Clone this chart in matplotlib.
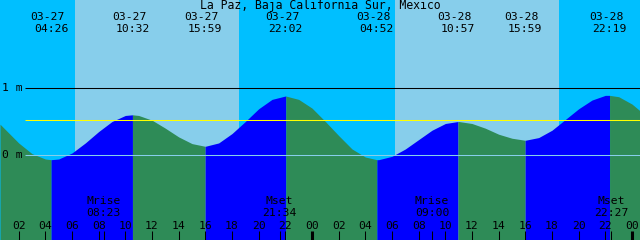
import matplotlib
matplotlib.use("Agg")
import matplotlib.pyplot as plt

title = "La Paz, Baja California Sur, Mexico"

# high / low tide events (date, time, height in m)
event_dates = ["03-27", "03-27", "03-27", "03-27", "03-28", "03-28", "03-28", "03-28"]
event_times = ["04:26", "10:32", "15:59", "22:02", "04:52", "10:57", "15:59", "22:19"]
event_heights = [-0.07, 0.60, 0.13, 0.88, -0.07, 0.50, 0.22, 0.89]

# tide height, hours from 03-27 00:00
curve_hours = [0.6] + list(range(1, 49)) + [48.6]
curve_heights = [0.46, 0.38, 0.18, 0.02, -0.06, -0.06, 0.03, 0.18, 0.35, 0.50,
                 0.59, 0.59, 0.52, 0.40, 0.27, 0.17, 0.13, 0.18, 0.32, 0.50,
                 0.69, 0.83, 0.88, 0.83, 0.70, 0.50, 0.29, 0.09, -0.03, -0.07,
                 -0.02, 0.09, 0.23, 0.37, 0.47, 0.50, 0.47, 0.40, 0.31, 0.25,
                 0.22, 0.26, 0.37, 0.53, 0.69, 0.82, 0.89, 0.87, 0.76, 0.66]

sunrise = ["06:13", "30:14"]
sunset = ["18:32", "42:32"]

moon_names = ["Mrise", "Mset", "Mrise", "Mset"]
moon_times = ["08:23", "21:34", "09:00", "22:27"]
moon_day = [0, 0, 1, 1]

mark_level = 0.52


def hours(s, day=0):
    h, m = s.split(":")
    return day * 24 + int(h) + int(m) / 60.0


t0, t1 = 0.6, 48.6
px_per_h = 640 / (t1 - t0)
ymin, ymax = (155 - 240) / 67.0, 155 / 67.0


def fy(py):
    # pixel row -> axes fraction
    return 1 - py / 240.0


fig = plt.figure(figsize=(6.4, 2.4), dpi=100)
ax = fig.add_axes([0, 0, 1, 1])
ax.set_xlim(t0, t1)
ax.set_ylim(ymin, ymax)
ax.axis("off")

# sky: night / day
rise_h = [hours(s) for s in sunrise]
set_h = [hours(s) for s in sunset]
ax.axvspan(t0, t1, color="#00bfff", lw=0, zorder=0)
for r, s in zip(rise_h, set_h):
    ax.axvspan(r, s, color="#87ceeb", lw=0, zorder=1)

# tide curve with extremes merged in
ev_h = [hours(t, 0 if d == "03-27" else 1) for d, t in zip(event_dates, event_times)]
pts = sorted(list(zip(curve_hours, curve_heights)) + list(zip(ev_h, event_heights)))
xs = [p[0] for p in pts]
ys = [p[1] for p in pts]

bounds = [t0] + ev_h + [t1]
for i in range(len(bounds) - 1):
    a, b = bounds[i], bounds[i + 1]
    sx = [x for x in xs if a <= x <= b]
    sy = [y for x, y in zip(xs, ys) if a <= x <= b]
    rising = sy[-1] > sy[0]
    ax.fill_between(sx, sy, ymin, color="#0000ff" if rising else "#2e8b57",
                    lw=0, zorder=2)

# level lines
xl = t0 + 25 / px_per_h
ax.hlines(1, xl, t1, color="black", lw=0.75, zorder=3)
ax.hlines(mark_level, xl, t1, color="yellow", lw=0.75, zorder=3)
ax.hlines(0, xl, t1, color="#87ceeb", lw=0.75, zorder=3)

mono = "DejaVu Sans Mono"
ax.text(2 / 640, fy(88), "1 m", transform=ax.transAxes, family=mono, fontsize=8.2,
        va="center", ha="left", zorder=4)
ax.text(2 / 640, fy(155), "0 m", transform=ax.transAxes, family=mono, fontsize=8.2,
        va="center", ha="left", zorder=4)

ax.text(0.5, fy(5), title, transform=ax.transAxes, family=mono, fontsize=8.3,
        ha="center", va="center", zorder=4)

tr = ax.get_xaxis_transform()
for d, t, h in zip(event_dates, event_times, ev_h):
    ax.text(h - 3.5 / px_per_h, fy(17), d, transform=tr, family=mono, fontsize=8.2,
            ha="center", va="center", zorder=4)
    ax.text(h, fy(29), t, transform=tr, family=mono, fontsize=8.2,
            ha="center", va="center", zorder=4)

# hour ticks
for h in range(2, 49, 2):
    lw = 2.2 if h % 24 == 0 else 0.75
    ax.vlines(h, fy(240), fy(231), transform=tr, color="black", lw=lw, zorder=4)
    ax.text(h, fy(226), "%02d" % (h % 24), transform=tr, family=mono, fontsize=8.2,
            ha="center", va="center", zorder=4)

# moon rise / set
for name, t, d in zip(moon_names, moon_times, moon_day):
    h = hours(t, d)
    ax.vlines(h, fy(240), fy(231), transform=tr, color="black", lw=0.75, zorder=4)
    ax.text(h, fy(201), name, transform=tr, family=mono, fontsize=8.2,
            ha="center", va="center", zorder=4)
    ax.text(h, fy(213), t, transform=tr, family=mono, fontsize=8.2,
            ha="center", va="center", zorder=4)

fig.savefig("out.png", dpi=100)
